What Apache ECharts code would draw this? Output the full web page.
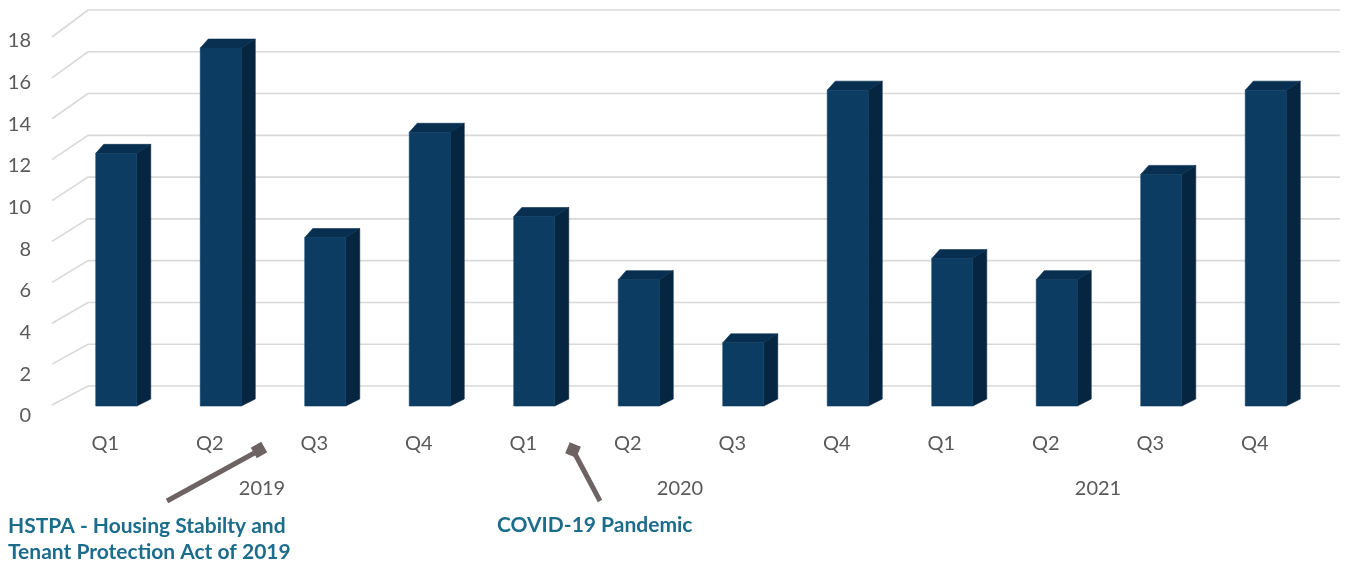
<!DOCTYPE html>
<html>
<head>
<meta charset="utf-8">
<script src="https://cdn.jsdelivr.net/npm/echarts@6/dist/echarts.min.js"></script>
<style>
html,body{margin:0;padding:0;background:#fff;}
#c{width:1350px;height:562px;}
</style>
</head>
<body>
<div id="c"></div>
<script>
// ---- data ----
var quarters = ['Q1','Q2','Q3','Q4','Q1','Q2','Q3','Q4','Q1','Q2','Q3','Q4'];
var years = ['2019','2020','2021'];
var values = [12, 17, 8, 13, 9, 6, 3, 15, 7, 6, 11, 15];
var yTicks = [0, 2, 4, 6, 8, 10, 12, 14, 16, 18];
var note1 = ['HSTPA - Housing Stabilty and', 'Tenant Protection Act of 2019'];
var note2 = 'COVID-19 Pandemic';

var chart = echarts.init(document.getElementById('c'), null, {renderer: 'canvas'});
var FONT = 'Lato';
var TXT = '#595959';
var FRONT = '#0c3c62', SIDE = '#052541', TOPC = '#082f50';

function renderBar(params, api) {
  var i = api.value(0), v = api.value(1);
  var base = api.coord([i, 0]);
  var top = api.coord([i, v]);
  var cx = base[0] + 11, w = 41;
  var x0 = cx - w / 2, x1 = cx + w / 2;
  var dy = -9, dxl = 8, dxr = 14;
  return {
    type: 'group',
    children: [
      {type: 'polygon', shape: {points: [[x1, top[1]], [x1 + dxr, top[1] + dy], [x1 + dxr, base[1] + dy + 2], [x1, base[1]]]}, style: {fill: SIDE, stroke: SIDE, lineWidth: 0.6}},
      {type: 'polygon', shape: {points: [[x0, top[1]], [x0 + dxl, top[1] + dy], [x1 + dxr, top[1] + dy], [x1, top[1]]]}, style: {fill: TOPC, stroke: TOPC, lineWidth: 0.6}},
      {type: 'rect', shape: {x: x0, y: top[1], width: w, height: base[1] - top[1]}, style: {fill: FRONT, stroke: FRONT, lineWidth: 0.6}}
    ]
  };
}

function renderGrid(params, api) {
  var v = api.value(0);
  var back = api.coord([0, v]);
  var right = api.coord([1, v]);
  var front = chart.convertToPixel({gridIndex: 1}, [0, v]);
  return {
    type: 'polyline',
    shape: {points: [front, back, right]},
    style: {stroke: '#d9d9d9', lineWidth: 1.6, fill: null}
  };
}

var option = {
  animation: false,
  backgroundColor: '#ffffff',
  grid: [
    {left: 88, right: 10, top: 10, bottom: 176},
    {left: 52, right: 10, top: 37, bottom: 157},
    {left: 53, right: 43, top: 27, bottom: 156},
    {left: 52, right: 10, top: 41, bottom: 146}
  ],
  xAxis: [
    {gridIndex: 0, type: 'value', min: 0, max: 1, show: false},
    {gridIndex: 1, type: 'value', min: 0, max: 1, show: false},
    {gridIndex: 2, type: 'category', data: quarters, axisLine: {show: false}, axisTick: {show: false},
     axisLabel: {color: TXT, fontFamily: FONT, fontSize: 20, margin: 28}},
    {gridIndex: 2, type: 'category', data: years, position: 'bottom', offset: 45, axisLine: {show: false}, axisTick: {show: false},
     axisLabel: {color: TXT, fontFamily: FONT, fontSize: 20, margin: 28}},
    {gridIndex: 3, type: 'value', min: 0, max: 1, show: false}
  ],
  yAxis: [
    {gridIndex: 0, type: 'value', min: 0, max: 18, interval: 2, show: false, splitLine: {show: false}},
    {gridIndex: 1, type: 'value', min: 0, max: 18, interval: 2, show: false, splitLine: {show: false}},
    {gridIndex: 2, type: 'value', min: 0, max: 18, show: false, splitLine: {show: false}},
    {gridIndex: 3, type: 'value', min: 0, max: 18, interval: 2, axisLine: {show: false}, axisTick: {show: false},
     splitLine: {show: false}, axisLabel: {color: TXT, fontFamily: FONT, fontSize: 20, margin: 21}}
  ],
  series: [
    {type: 'custom', xAxisIndex: 0, yAxisIndex: 0, renderItem: renderGrid,
     data: yTicks.map(function (t) { return [t]; }), encode: {x: -1, y: 0}, silent: true, z: 1},
    {type: 'custom', xAxisIndex: 2, yAxisIndex: 2, renderItem: renderBar,
     data: values.map(function (v, i) { return [i, v]; }), encode: {x: 0, y: 1}, z: 5}
  ],
  graphic: [
    {type: 'line', shape: {x1: 167, y1: 501, x2: 258, y2: 451}, style: {stroke: '#6d6363', lineWidth: 5}, z: 10},
    {type: 'rect', shape: {x: -6, y: -6, width: 12, height: 12}, x: 259, y: 450, rotation: Math.PI / 6, style: {fill: '#6d6363'}, z: 10},
    {type: 'line', shape: {x1: 600, y1: 501, x2: 574, y2: 452}, style: {stroke: '#6d6363', lineWidth: 5}, z: 10},
    {type: 'rect', shape: {x: -6, y: -6, width: 12, height: 12}, x: 573, y: 450, rotation: -Math.PI / 8, style: {fill: '#6d6363'}, z: 10},
    {type: 'text', left: 8, top: 513, style: {text: note1.join('\n'), fill: '#1c6c8c', font: 'bold 21px Lato', lineHeight: 26}, z: 10},
    {type: 'text', left: 497, top: 515, style: {text: note2, fill: '#1c6c8c', font: 'bold 21px Lato'}, z: 10}
  ]
};
chart.setOption(option);
</script>
</body>
</html>
